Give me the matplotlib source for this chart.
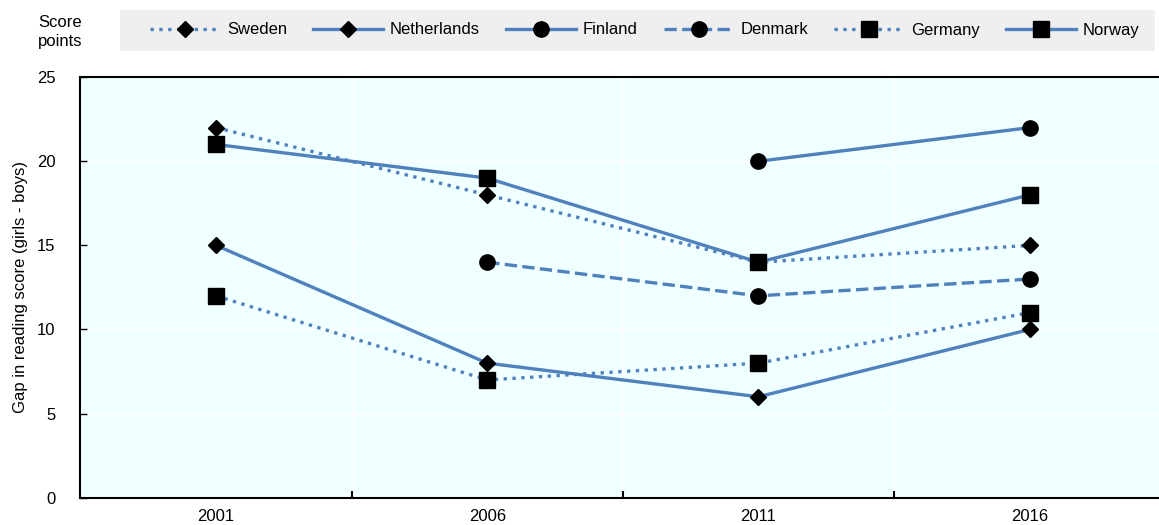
import matplotlib.pyplot as plt
from matplotlib.patches import Rectangle
import numpy as np

plt.rcParams['font.family'] = ['Liberation Sans', 'DejaVu Sans']

years = ['2001', '2006', '2011', '2016']
sweden = [22, 18, 14, 15]
netherlands = [15, 8, 6, 10]
finland = [np.nan, np.nan, 20, 22]
denmark = [np.nan, 14, 12, 13]
germany = [12, 7, 8, 11]
norway = [21, 19, 14, 18]

blue = '#4F81BD'
fs = 12
x = np.arange(len(years))

W, H = 1159, 525
fig = plt.figure(figsize=(W / 100, H / 100), dpi=100)
ax = fig.add_axes([0.0694, 0.052, 0.936, 0.801])
ax.set_facecolor('#F0FFFF')

series = [
    ('Sweden', sweden, ':', 'D', 8),
    ('Netherlands', netherlands, '-', 'D', 8),
    ('Finland', finland, '-', 'o', 11),
    ('Denmark', denmark, '--', 'o', 11),
    ('Germany', germany, ':', 's', 11),
    ('Norway', norway, '-', 's', 11),
]
for name, vals, ls, mk, ms in series:
    ax.plot(x, vals, color=blue, linestyle=ls, linewidth=2.4, marker=mk,
            markersize=ms, markerfacecolor='black', markeredgecolor='black',
            label=name, zorder=3)

ax.set_xlim(-0.5, 3.5)
ax.set_ylim(0, 25)
ax.set_xticks(x)
ax.set_xticklabels(years)
ax.set_xticks([0.5, 1.5, 2.5], minor=True)
ax.set_yticks([0, 5, 10, 15, 20, 25])
ax.tick_params(axis='x', which='major', length=0, labelsize=fs, pad=8)
ax.tick_params(axis='x', which='minor', direction='in', length=5, width=1.5)
ax.tick_params(axis='y', direction='in', length=5, width=1, labelsize=fs, pad=18)
ax.grid(True, axis='y', color='white', linewidth=1)
ax.grid(True, axis='x', which='minor', color='white', linewidth=1)
ax.set_axisbelow(True)

for s in ['left', 'bottom', 'top']:
    ax.spines[s].set_linewidth(1.5)
    ax.spines[s].set_color('black')
ax.spines['right'].set_visible(False)

ax.set_ylabel('Gap in reading score (girls - boys)', fontsize=fs, labelpad=6)
fig.text(38 / W, 1 - 32 / H, 'Score\npoints', fontsize=fs, ha='left', va='center',
         linespacing=1.35)

# grey legend band
fig.patches.append(Rectangle((120 / W, 1 - 51 / H), 1035 / W, 41 / H,
                             transform=fig.transFigure, facecolor='#EFEFEF',
                             edgecolor='none', zorder=0))
leg = fig.legend(loc='center left', bbox_to_anchor=(150 / W, 1 - 30 / H),
                 ncol=6, fontsize=fs, handlelength=4.2, handletextpad=0.42,
                 columnspacing=1.55, frameon=False, borderaxespad=0, borderpad=0)

fig.savefig('out.png', dpi=100)
